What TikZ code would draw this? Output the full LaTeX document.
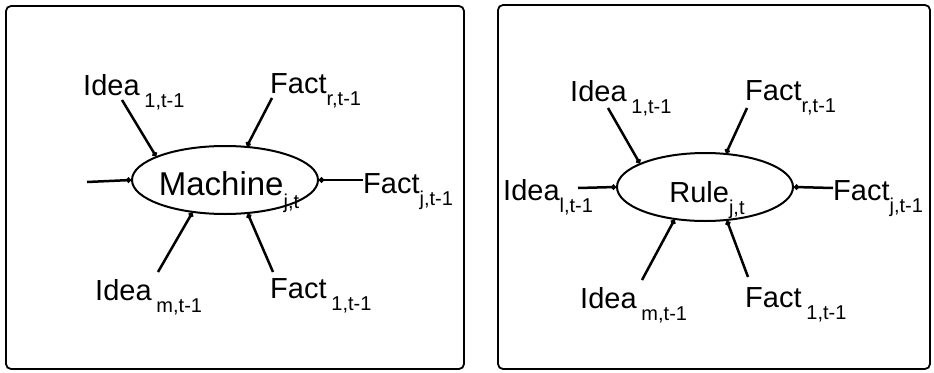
\documentclass[tikz,border=0pt]{standalone}
\usepackage{fontspec}
\setmainfont{Liberation Sans}
\usetikzlibrary{shapes.geometric,arrows.meta}
\newcommand{\sbs}[1]{\raisebox{-0.42em}{\fontsize{20}{20}\selectfont #1}}
\newcommand{\ctext}[1]{\smash{\makebox[0pt]{\raisebox{-15pt}{#1}}}}
\tikzset{
  frame/.style={draw, line width=1.8pt, rounded corners=5pt},
  hub/.style={draw, ellipse, line width=2pt, inner sep=0pt},
  lbl/.style={inner sep=0pt, anchor=base west, font=\fontsize{29}{30}\selectfont},
  conn/.style={line width=2.5pt, -{Circle[length=5pt]}}
}
\begin{document}
\begin{tikzpicture}[x=1pt,y=-1pt]
\useasboundingbox (0,0) rectangle (934,372);
% frames
\draw[frame] (6,6) rectangle (464,369);
\draw[frame] (498,5) rectangle (930,369);

% ---------- left diagram ----------
\node[hub, minimum width=186pt, minimum height=68pt, font=\fontsize{33}{34}\selectfont] (m) at (225,180) {\ctext{\hspace{8pt}Machine\sbs{j,t}}};
\node[lbl] (li1) at (83,95) {Idea\,\sbs{1,t-1}};
\node[lbl] (lfr) at (270,93) {Fact\sbs{r,t-1}};
\node[lbl] (lfj) at (363,193) {Fact\sbs{j,t-1}};
\node[lbl] (lim) at (95,300) {Idea\,\sbs{m,t-1}};
\node[lbl] (lf1) at (270,298) {Fact\,\sbs{1,t-1}};
\coordinate (la) at (122,100);
\coordinate (lb) at (272,98);
\coordinate (lc) at (87,182);
\coordinate (ld) at (363,180);
\coordinate (le) at (158,272);
\coordinate (lf) at (273,272);
\draw[conn] (la) -- (m.161);
\draw[conn] (lb) -- (m.57);
\draw[conn] (lc) -- (m.180);
\draw[conn] (ld) -- (m.0);
\draw[conn] (le) -- (m.225);
\draw[conn] (lf) -- (m.304);

% ---------- right diagram ----------
\node[hub, minimum width=176pt, minimum height=68pt, font=\fontsize{29}{30}\selectfont] (r) at (705,187) {\ctext{\hspace{4pt}Rule\sbs{j,t}}};
\node[lbl] (ri1) at (570,101) {Idea\,\sbs{1,t-1}};
\node[lbl] (rfr) at (745,100) {Fact\sbs{r,t-1}};
\node[lbl] (ril) at (503,200) {Idea\sbs{l,t-1}};
\node[lbl] (rfj) at (833,200) {Fact\sbs{j,t-1}};
\node[lbl] (rim) at (580,308) {Idea\,\sbs{m,t-1}};
\node[lbl] (rf1) at (745,307) {Fact\,\sbs{1,t-1}};
\coordinate (ra) at (608,108);
\coordinate (rb) at (747,108);
\coordinate (rc) at (578,188);
\coordinate (rd) at (833,188);
\coordinate (re) at (642,280);
\coordinate (rf) at (748,277);
\draw[conn] (ra) -- (r.160);
\draw[conn] (rb) -- (r.58);
\draw[conn] (rc) -- (r.180);
\draw[conn] (rd) -- (r.0);
\draw[conn] (re) -- (r.227);
\draw[conn] (rf) -- (r.303);
\end{tikzpicture}
\end{document}
